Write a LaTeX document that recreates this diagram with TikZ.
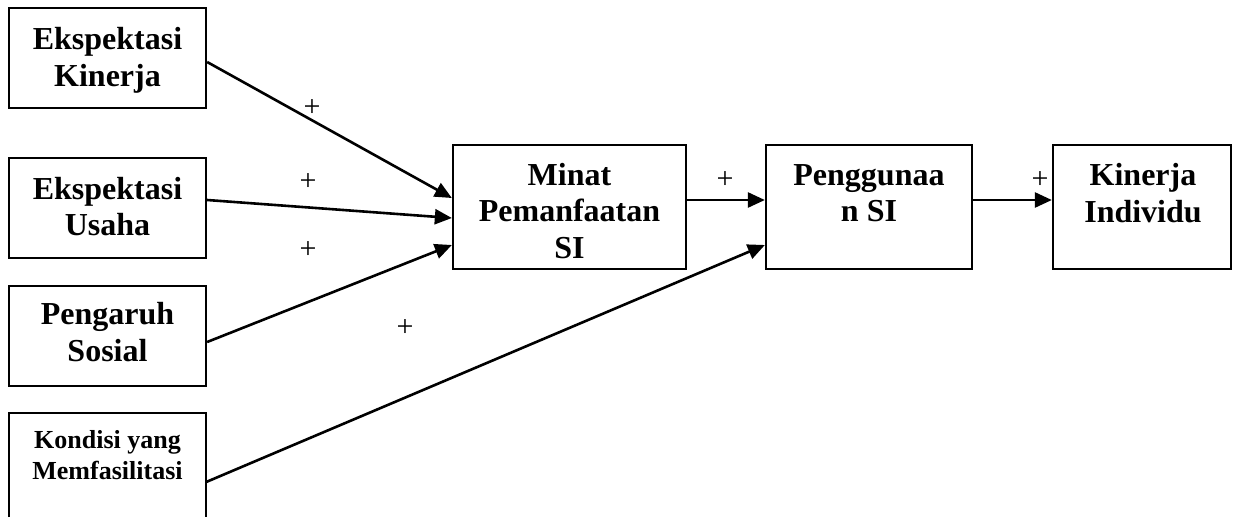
\documentclass[tikz,border=0pt]{standalone}
\usepackage{fontspec}
\setmainfont{Liberation Serif}
\usetikzlibrary{arrows.meta,calc}
\begin{document}
\begin{tikzpicture}[x=1pt,y=-1pt,
  box/.style={draw,line width=2.3pt,inner sep=0pt},
  lbl/.style={font=\fontsize{32}{36.5}\selectfont\bfseries,align=center,inner sep=0pt},
  smalllbl/.style={font=\fontsize{26}{31}\selectfont\bfseries,align=center,inner sep=0pt},
  sign/.style={font=\fontsize{30}{30}\selectfont,inner sep=0pt},
  arr/.style={line width=2.6pt,-{Triangle[length=17pt,width=15pt]}}]
\useasboundingbox (0,0) rectangle (1233,517);

% input constructs
\node[box,minimum width=197pt,minimum height=100pt] (ek) at (107.5,58) {};
\node[box,minimum width=197pt,minimum height=100pt] (eu) at (107.5,208) {};
\node[box,minimum width=197pt,minimum height=100pt] (ps) at (107.5,336) {};
\node[inner sep=0pt,minimum width=197pt,minimum height=104pt] (kf) at (107.5,465) {};
\draw[line width=2.3pt] (kf.south west) -- (kf.north west) -- (kf.north east) -- (kf.south east);

% intention, use and performance
\node[box,minimum width=233pt,minimum height=124pt] (mp) at (569.5,207) {};
\node[box,minimum width=206pt,minimum height=124pt] (pg) at (869,207) {};
\node[box,minimum width=178pt,minimum height=124pt] (ki) at (1142,207) {};

% box texts
\node[lbl] (ek-t) at (107.5,60.5) {Ekspektasi\\Kinerja};
\node[lbl] (eu-t) at (107.5,206.7) {Ekspektasi\\Usaha};
\node[lbl] (ps-t) at (107.5,332) {Pengaruh\\Sosial};
\node[smalllbl] (kf-t) at (107.5,454.7) {Kondisi yang\\Memfasilitasi};
\node[lbl] (mp-t) at (569.5,211) {Minat\\Pemanfaatan\\SI};
\node[lbl] (pg-t) at (869,193) {Penggunaa\\n SI};
\node[lbl] (ki-t) at (1143,193) {Kinerja\\Individu};

% paths
\draw[arr] ($(ek.east)+(0,4)$) -- ($(mp.west)+(0,-9)$);
\draw[arr] ($(eu.east)+(0,-8)$) -- ($(mp.west)+(0,11)$);
\draw[arr] ($(ps.east)+(0,6)$) -- ($(mp.west)+(0,38)$);
\draw[arr] ($(mp.east)+(0,-7)$) -- ($(pg.west)+(0,-7)$);
\draw[arr] ($(kf.east)+(0,17)$) -- ($(pg.west)+(0,38)$);
\draw[arr] ($(pg.east)+(0,-7)$) -- ($(ki.west)+(0,-7)$);

% signs of the effects
\node[sign] (s1) at (312,108) {+};
\node[sign] (s2) at (308,182) {+};
\node[sign] (s3) at (308,250) {+};
\node[sign] (s4) at (405,328) {+};
\node[sign] (s5) at (725,180) {+};
\node[sign] (s6) at (1040,180) {+};
\end{tikzpicture}
\end{document}
